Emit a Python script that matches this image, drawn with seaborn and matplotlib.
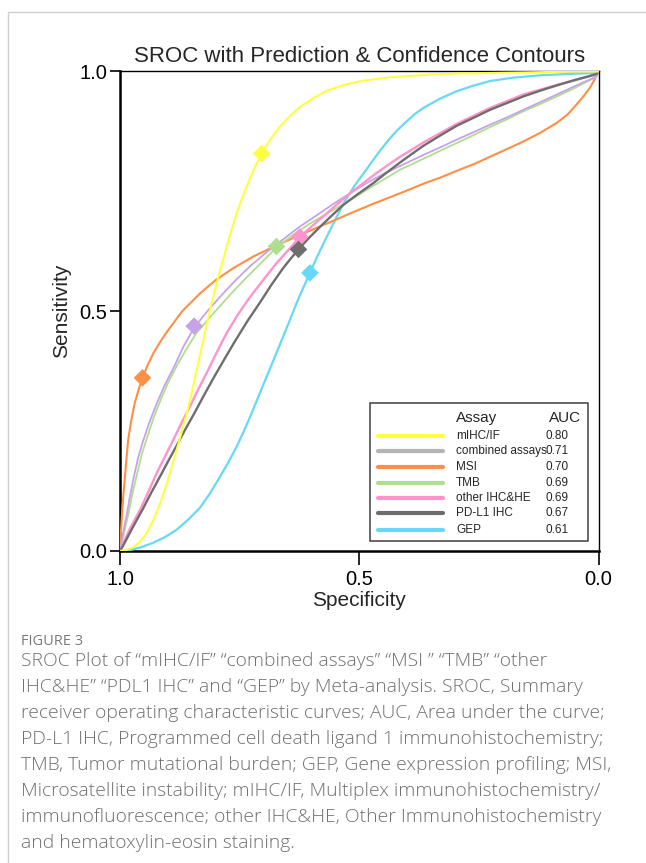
import numpy as np
import pandas as pd
import matplotlib
matplotlib.use("Agg")
import matplotlib.pyplot as plt
import seaborn as sns
from matplotlib.patches import Rectangle
from matplotlib.lines import Line2D

# Assays (legend order) and their AUC
assays = ['mIHC/IF', 'combined assays', 'MSI', 'TMB', 'other IHC&HE', 'PD-L1 IHC', 'GEP']
auc = ['0.80', '0.71', '0.70', '0.69', '0.69', '0.67', '0.61']

# colour of the curve on the plot, and of the swatch in the legend
line_colors = ['#ffff40', '#c8a2e6', '#ff8f45', '#addf8f', '#ff94cc', '#6e6e6e', '#66d8f8']
legend_colors = ['#ffff40', '#b4b4b4', '#ff8f45', '#addf8f', '#ff94cc', '#6e6e6e', '#66d8f8']
line_widths = [1.5, 1.3, 1.5, 1.3, 1.7, 1.7, 1.6]

# SROC curves (1 - specificity, sensitivity)
fpr_mihc = [0, 0.015, 0.028, 0.042, 0.056, 0.070, 0.084, 0.098, 0.111, 0.125, 0.139, 0.150,
            0.160, 0.170, 0.178, 0.187, 0.196, 0.206, 0.216, 0.230, 0.244, 0.258, 0.272, 0.284,
            0.296, 0.315, 0.334, 0.355, 0.376, 0.403, 0.432, 0.468, 0.508, 0.564, 0.610, 0.650,
            0.710, 0.773, 0.840, 0.900, 0.950, 1.0]
sen_mihc = [0, 0.003, 0.008, 0.019, 0.038, 0.065, 0.100, 0.141, 0.185, 0.234, 0.285, 0.330,
            0.377, 0.420, 0.458, 0.497, 0.535, 0.573, 0.610, 0.660, 0.705, 0.744, 0.778, 0.805,
            0.829, 0.860, 0.885, 0.907, 0.926, 0.944, 0.960, 0.972, 0.981, 0.988, 0.991, 0.994,
            0.996, 0.997, 0.998, 0.999, 1.0, 1.0]

fpr_comb = [0, 0.005, 0.009, 0.014, 0.020, 0.028, 0.038, 0.049, 0.062, 0.077, 0.093, 0.111,
            0.132, 0.155, 0.180, 0.209, 0.240, 0.272, 0.305, 0.341, 0.375, 0.411, 0.446, 0.481,
            0.515, 0.550, 0.592, 0.634, 0.670, 0.704, 0.740, 0.773, 0.808, 0.843, 0.878, 0.913,
            0.945, 0.970, 0.988, 0.996, 1.0]
sen_comb = [0, 0.030, 0.050, 0.075, 0.110, 0.150, 0.195, 0.232, 0.270, 0.308, 0.345, 0.380,
            0.425, 0.466, 0.497, 0.530, 0.563, 0.594, 0.622, 0.650, 0.676, 0.700, 0.724, 0.746,
            0.767, 0.786, 0.806, 0.826, 0.842, 0.858, 0.874, 0.889, 0.904, 0.920, 0.936, 0.952,
            0.967, 0.978, 0.986, 0.991, 1.0]

fpr_msi = [0, 0.001, 0.002, 0.0035, 0.005, 0.0075, 0.010, 0.0135, 0.017, 0.024, 0.031, 0.039,
           0.047, 0.058, 0.070, 0.084, 0.098, 0.130, 0.167, 0.200, 0.237, 0.280, 0.327, 0.360,
           0.397, 0.430, 0.467, 0.500, 0.529, 0.560, 0.585, 0.610, 0.634, 0.670, 0.704, 0.740,
           0.773, 0.808, 0.843, 0.878, 0.913, 0.935, 0.954, 0.970, 0.982, 0.990, 0.996, 0.999, 1.0]
sen_msi = [0, 0.018, 0.040, 0.066, 0.090, 0.122, 0.150, 0.192, 0.231, 0.275, 0.309, 0.337,
           0.361, 0.388, 0.413, 0.436, 0.457, 0.500, 0.537, 0.565, 0.590, 0.615, 0.637, 0.652,
           0.668, 0.682, 0.698, 0.712, 0.724, 0.736, 0.746, 0.756, 0.766, 0.779, 0.793, 0.807,
           0.822, 0.838, 0.854, 0.872, 0.893, 0.910, 0.931, 0.950, 0.966, 0.980, 0.992, 0.997, 1.0]

fpr_tmb = [0, 0.005, 0.010, 0.017, 0.025, 0.035, 0.045, 0.056, 0.070, 0.084, 0.100, 0.118,
           0.138, 0.160, 0.185, 0.210, 0.237, 0.265, 0.296, 0.327, 0.360, 0.397, 0.440, 0.481,
           0.530, 0.585, 0.634, 0.670, 0.704, 0.740, 0.773, 0.808, 0.843, 0.878, 0.913, 0.945,
           0.970, 0.988, 0.996, 1.0]
sen_tmb = [0, 0.022, 0.045, 0.075, 0.115, 0.158, 0.200, 0.235, 0.277, 0.313, 0.350, 0.385,
           0.420, 0.455, 0.484, 0.512, 0.542, 0.571, 0.602, 0.633, 0.658, 0.683, 0.708, 0.732,
           0.762, 0.795, 0.818, 0.835, 0.851, 0.868, 0.884, 0.900, 0.917, 0.932, 0.948, 0.963,
           0.976, 0.985, 0.990, 1.0]

fpr_other = [0, 0.007, 0.020, 0.042, 0.060, 0.077, 0.094, 0.111, 0.128, 0.146, 0.163, 0.181,
             0.202, 0.223, 0.247, 0.272, 0.300, 0.327, 0.352, 0.376, 0.404, 0.432, 0.456, 0.481,
             0.508, 0.536, 0.560, 0.585, 0.610, 0.634, 0.670, 0.704, 0.740, 0.773, 0.808, 0.843,
             0.878, 0.913, 0.950, 0.980, 0.996, 1.0]
sen_other = [0, 0.017, 0.045, 0.086, 0.125, 0.163, 0.197, 0.231, 0.266, 0.301, 0.336, 0.371,
             0.414, 0.455, 0.494, 0.530, 0.566, 0.600, 0.628, 0.655, 0.680, 0.704, 0.725, 0.746,
             0.767, 0.788, 0.805, 0.822, 0.837, 0.852, 0.872, 0.891, 0.908, 0.924, 0.938, 0.952,
             0.962, 0.972, 0.982, 0.990, 0.995, 1.0]

fpr_pdl1 = [0, 0.007, 0.027, 0.049, 0.066, 0.084, 0.101, 0.118, 0.135, 0.153, 0.174, 0.195,
            0.217, 0.240, 0.266, 0.293, 0.317, 0.341, 0.357, 0.373, 0.395, 0.418, 0.442, 0.467,
            0.498, 0.529, 0.557, 0.585, 0.610, 0.634, 0.670, 0.704, 0.740, 0.773, 0.808, 0.843,
            0.878, 0.913, 0.950, 0.980, 0.996, 1.0]
sen_pdl1 = [0, 0.012, 0.050, 0.090, 0.123, 0.156, 0.188, 0.219, 0.251, 0.283, 0.322, 0.360,
            0.398, 0.437, 0.479, 0.519, 0.556, 0.590, 0.610, 0.629, 0.653, 0.676, 0.699, 0.722,
            0.745, 0.767, 0.789, 0.810, 0.828, 0.845, 0.867, 0.887, 0.904, 0.920, 0.934, 0.948,
            0.960, 0.971, 0.982, 0.990, 0.995, 1.0]

fpr_gep = [0, 0.021, 0.045, 0.069, 0.094, 0.118, 0.142, 0.167, 0.188, 0.209, 0.227, 0.244,
           0.258, 0.272, 0.288, 0.305, 0.322, 0.338, 0.354, 0.369, 0.383, 0.397, 0.414, 0.432,
           0.450, 0.467, 0.491, 0.516, 0.539, 0.561, 0.580, 0.599, 0.616, 0.634, 0.670, 0.704,
           0.740, 0.773, 0.820, 0.878, 0.940, 0.996, 1.0]
sen_gep = [0, 0.002, 0.008, 0.017, 0.029, 0.044, 0.065, 0.090, 0.120, 0.155, 0.186, 0.218,
           0.248, 0.280, 0.319, 0.360, 0.401, 0.440, 0.479, 0.517, 0.549, 0.580, 0.618, 0.655,
           0.691, 0.725, 0.763, 0.797, 0.829, 0.857, 0.878, 0.896, 0.911, 0.924, 0.944, 0.959,
           0.971, 0.980, 0.987, 0.992, 0.995, 0.997, 1.0]

# summary points (diamonds): specificity, sensitivity
point_spec = [0.704, 0.845, 0.953, 0.673, 0.624, 0.627, 0.603]
point_sens = [0.829, 0.469, 0.361, 0.635, 0.655, 0.629, 0.580]

curves = {
    'mIHC/IF': (fpr_mihc, sen_mihc),
    'combined assays': (fpr_comb, sen_comb),
    'MSI': (fpr_msi, sen_msi),
    'TMB': (fpr_tmb, sen_tmb),
    'other IHC&HE': (fpr_other, sen_other),
    'PD-L1 IHC': (fpr_pdl1, sen_pdl1),
    'GEP': (fpr_gep, sen_gep),
}

caption = [
    "SROC Plot of \u201cmIHC/IF\u201d \u201ccombined assays\u201d \u201cMSI \u201d \u201cTMB\u201d \u201cother",
    "IHC&HE\u201d \u201cPDL1 IHC\u201d and \u201cGEP\u201d by Meta-analysis. SROC, Summary",
    "receiver operating characteristic curves; AUC, Area under the curve;",
    "PD-L1 IHC, Programmed cell death ligand 1 immunohistochemistry;",
    "TMB, Tumor mutational burden; GEP, Gene expression profiling; MSI,",
    "Microsatellite instability; mIHC/IF, Multiplex immunohistochemistry/",
    "immunofluorescence; other IHC&HE, Other Immunohistochemistry",
    "and hematoxylin-eosin staining.",
]

sns.set_style("ticks")
plt.rcParams['font.family'] = ['Liberation Sans', 'DejaVu Sans']

W, H = 646, 863
fig = plt.figure(figsize=(W / 100, H / 100), dpi=100)
ax = fig.add_axes([120 / W, 1 - 551 / H, 478.5 / W, 479.5 / H])

# long table for seaborn
rows = []
for name in assays:
    f, s = curves[name]
    for i, (a, b) in enumerate(zip(f, s)):
        rows.append({'assay': name, 'spec': 1 - a, 'sens': b, 'i': i})
df = pd.DataFrame(rows)

draw_order = ['GEP', 'MSI', 'TMB', 'combined assays', 'other IHC&HE', 'PD-L1 IHC', 'mIHC/IF']
for name in draw_order:
    k = assays.index(name)
    sub = df[df['assay'] == name].sort_values('i')
    sns.lineplot(data=sub, x='spec', y='sens', sort=False, estimator=None,
                 color=line_colors[k], lw=line_widths[k], ax=ax, zorder=3)

pts = pd.DataFrame({'assay': assays, 'spec': point_spec, 'sens': point_sens})
sns.scatterplot(data=pts, x='spec', y='sens', hue='assay',
                palette=dict(zip(assays, line_colors)), marker='D', s=80,
                edgecolor='none', legend=False, ax=ax, zorder=5)

ax.set_xlim(1, 0)
ax.set_ylim(0, 1)
ax.set_xticks([1.0, 0.5, 0.0])
ax.set_xticklabels(['1.0', '0.5', '0.0'])
ax.set_yticks([0.0, 0.5, 1.0])
ax.set_yticklabels(['0.0', '0.5', '1.0'])
ax.tick_params(axis='both', direction='out', width=1.2, colors='black', labelsize=14.5)
ax.tick_params(axis='y', length=7, pad=2)
ax.tick_params(axis='x', length=10, pad=4)
ax.set_xlabel('Specificity', fontsize=15, labelpad=1)
ax.set_ylabel('Sensitivity', fontsize=15, labelpad=6)
ax.set_title('SROC with Prediction & Confidence Contours', fontsize=16, pad=7)
for side in ['left', 'bottom']:
    ax.spines[side].set_linewidth(1.8)
for side in ['top', 'right']:
    ax.spines[side].set_linewidth(1.0)
for sp in ax.spines.values():
    sp.set_color('black')

# legend box with AUC column
ax.add_patch(Rectangle((0.522, 0.020), 0.456, 0.289, transform=ax.transAxes,
                       facecolor='white', edgecolor='#404040', lw=1.1, zorder=6))
ax.text(0.702, 0.278, 'Assay', transform=ax.transAxes, fontsize=11, va='center', zorder=7)
ax.text(0.896, 0.278, 'AUC', transform=ax.transAxes, fontsize=11, va='center', zorder=7)
row_y = [0.240, 0.2085, 0.176, 0.142, 0.110, 0.0786, 0.0438]
for k, name in enumerate(assays):
    ax.add_line(Line2D([0.540, 0.676], [row_y[k], row_y[k]], transform=ax.transAxes,
                       color=legend_colors[k], lw=3, zorder=7))
    ax.text(0.702, row_y[k], name, transform=ax.transAxes, fontsize=8.5, va='center', zorder=7)
    ax.text(0.890, row_y[k], auc[k], transform=ax.transAxes, fontsize=8.5, va='center', zorder=7)

# page frame
fig.add_artist(Line2D([8 / W, 8 / W], [0, 1 - 12 / H], transform=fig.transFigure,
                      color='#cfcfcf', lw=1))
fig.add_artist(Line2D([8 / W, 1], [1 - 12 / H, 1 - 12 / H], transform=fig.transFigure,
                      color='#cfcfcf', lw=1))

# caption
fig.text(21 / W, 1 - 641 / H, 'FIGURE 3', fontsize=10.5, color='#7a7a7a',
         family=['Open Sans', 'DejaVu Sans'], va='center')
for j, line in enumerate(caption):
    fig.text(21 / W, 1 - (661 + 26 * j) / H, line, fontsize=13.9, color='#707070',
             family=['Open Sans', 'DejaVu Sans'], fontweight='light', va='center')

fig.savefig('out.png', dpi=100)
